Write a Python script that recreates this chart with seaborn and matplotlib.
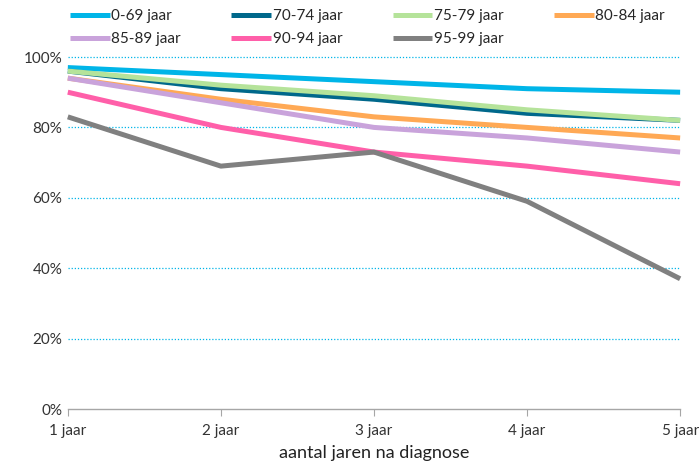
import matplotlib
matplotlib.use("Agg")
import matplotlib.pyplot as plt
import matplotlib.ticker as mticker
import seaborn as sns
import pandas as pd

jaren = ['1 jaar', '2 jaar', '3 jaar', '4 jaar', '5 jaar']
groepen = ['0-69 jaar', '70-74 jaar', '75-79 jaar', '80-84 jaar',
           '85-89 jaar', '90-94 jaar', '95-99 jaar']
waarden = {
    '0-69 jaar':  [97, 95, 93, 91, 90],
    '70-74 jaar': [96, 91, 88, 84, 82],
    '75-79 jaar': [96, 92, 89, 85, 82],
    '80-84 jaar': [94, 88, 83, 80, 77],
    '85-89 jaar': [94, 87, 80, 77, 73],
    '90-94 jaar': [90, 80, 73, 69, 64],
    '95-99 jaar': [83, 69, 73, 59, 37],
}
kleuren = ['#00b5e8', '#00688b', '#b5e39a', '#ffa955', '#c9a3db', '#ff5fa9', '#808080']

rows = []
for g in groepen:
    for i, v in enumerate(waarden[g]):
        rows.append({'jaar': i, 'groep': g, 'overleving': v / 100})
df = pd.DataFrame(rows)

sns.set_style('white')
plt.rcParams['font.family'] = ['Lato', 'DejaVu Sans']

fig = plt.figure(figsize=(6.99, 4.65), dpi=100)
ax = fig.add_axes([0.097, 0.1204, 0.876, 0.7570])

sns.lineplot(data=df, x='jaar', y='overleving', hue='groep', hue_order=groepen,
             palette=kleuren, linewidth=3.6, ax=ax, legend=True)

ax.set_ylim(0, 1)
ax.set_xlim(0, 4)
ax.yaxis.set_major_locator(mticker.MultipleLocator(0.2))
ax.yaxis.set_major_formatter(mticker.PercentFormatter(1.0, decimals=0))
ax.set_xticks(range(5))
ax.set_xticklabels(jaren)
ax.set_ylabel('')
ax.set_xlabel('aantal jaren na diagnose', fontsize=13, color='#222222', labelpad=5)

for y in [0.2, 0.4, 0.6, 0.8, 1.0]:
    ax.axhline(y, color='#00b5e8', linestyle=(0, (1, 1.5)), linewidth=0.9, zorder=0)

for s in ['left', 'top', 'right']:
    ax.spines[s].set_visible(False)
ax.spines['bottom'].set_color('#a6a6a6')
ax.spines['bottom'].set_linewidth(1)
ax.tick_params(axis='x', direction='out', length=5, color='#a6a6a6', labelsize=11,
               labelcolor='#333333', pad=6, bottom=True)
ax.tick_params(axis='y', length=0, labelsize=11, labelcolor='#333333', pad=4)

for line in ax.get_lines():
    line.set_solid_capstyle('butt')
    line.set_clip_on(False)

handles, lbls = ax.get_legend_handles_labels()
ax.get_legend().remove()
volgorde = [0, 4, 1, 5, 2, 6, 3]
fig.legend([handles[i] for i in volgorde], [lbls[i] for i in volgorde],
           ncol=4, loc='upper left', bbox_to_anchor=(0.085, 1.003),
           frameon=False, fontsize=11, handlelength=2.6, handletextpad=0.1,
           columnspacing=3.3, labelspacing=0.6, borderaxespad=0.3)

fig.savefig('out.png', dpi=100)
